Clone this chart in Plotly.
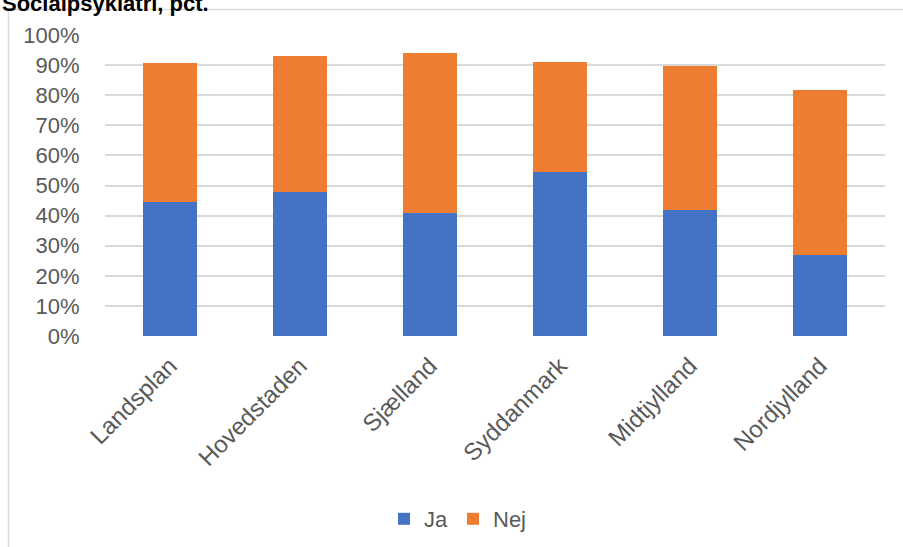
import plotly.graph_objects as go

# Regions and shares (fraction of respondents)
regions = ["Landsplan", "Hovedstaden", "Sjælland", "Syddanmark", "Midtjylland", "Nordjylland"]
ja = [0.446, 0.478, 0.409, 0.545, 0.419, 0.269]
nej = [0.460, 0.452, 0.531, 0.365, 0.478, 0.548]
tick_vals = [i / 10 for i in range(11)]

W, H = 903, 547
L, R, T, B = 105, 18, 35, 211
plot_w = W - L - R
plot_h = H - T - B

def px_x(px):
    return (px - L) / plot_w

def px_y(py):
    return (H - B - py) / plot_h

font_family = "Liberation Sans, Arial, sans-serif"
grey_text = "#595959"

fig = go.Figure()
fig.add_trace(go.Bar(name="Ja", x=regions, y=ja, marker_color="#4472C4", marker_line_width=0))
fig.add_trace(go.Bar(name="Nej", x=regions, y=nej, marker_color="#ED7D31", marker_line_width=0))

fig.update_layout(
    width=W, height=H,
    margin=dict(l=L, r=R, t=T, b=B, autoexpand=False),
    barmode="stack",
    bargap=0.59,
    plot_bgcolor="white",
    paper_bgcolor="white",
    font=dict(family=font_family, size=22, color=grey_text),
    showlegend=True,
    legend=dict(
        orientation="h",
        xref="container", yref="container",
        x=458 / W, xanchor="center",
        y=1 - 519 / H, yanchor="middle",
        font=dict(size=22, color=grey_text),
        itemwidth=30,
        traceorder="normal",
    ),
    xaxis=dict(
        tickangle=-45,
        showgrid=False,
        showline=False,
        zeroline=False,
        ticks="",
        ticklabelstandoff=10,
        tickfont=dict(size=24, color=grey_text),
    ),
    yaxis=dict(
        range=[0, 1],
        tickvals=tick_vals,
        tickformat=".0%",
        showgrid=True,
        gridcolor="#d9d9d9",
        gridwidth=1.5,
        zeroline=False,
        showline=False,
        ticks="outside",
        ticklen=20,
        tickcolor="rgba(0,0,0,0)",
        tickfont=dict(size=22, color=grey_text),
    ),
)

# Chart frame
fig.add_shape(
    type="rect", xref="paper", yref="paper",
    x0=px_x(8.5), x1=px_x(W + 20), y0=px_y(H + 20), y1=px_y(9.5),
    line=dict(color="#d9d9d9", width=1.5), fillcolor="rgba(0,0,0,0)", layer="below",
)

# Title
fig.add_annotation(
    text="<b>Socialpsykiatri, pct.</b>",
    xref="paper", yref="paper",
    x=px_x(0), xanchor="left",
    y=px_y(18), yanchor="bottom",
    showarrow=False,
    font=dict(size=22, color="black", family=font_family),
)

fig.write_html("out.html")
